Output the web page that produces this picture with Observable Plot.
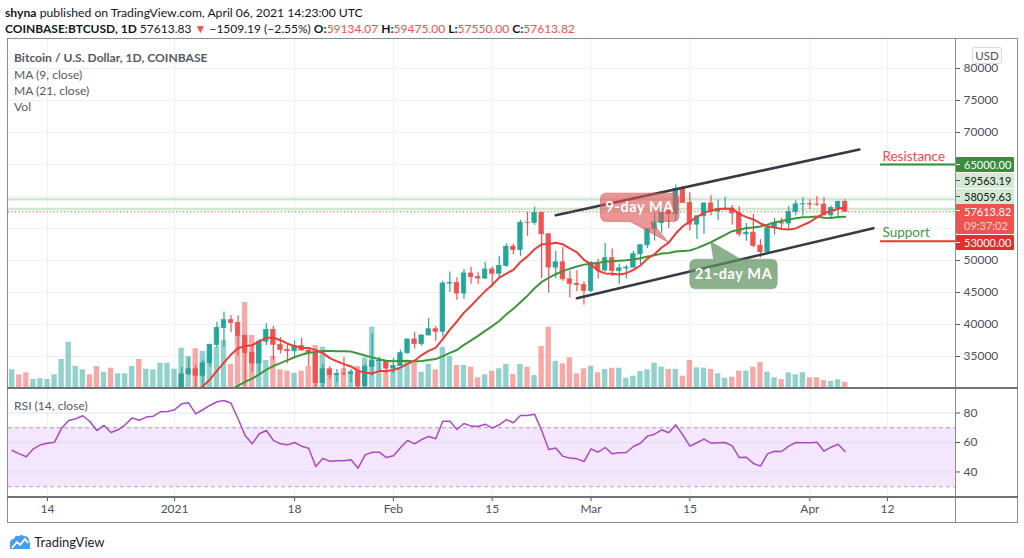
<!DOCTYPE html>
<html><head><meta charset="utf-8">
<script src="https://cdn.jsdelivr.net/npm/d3@7"></script>
<script src="https://cdn.jsdelivr.net/npm/@observablehq/plot@0.6"></script>
<style>
body{margin:0;background:#fff;}
#root{position:relative;width:1024px;height:558px;overflow:hidden;background:#fff;font-family:Lato,"Liberation Sans",sans-serif;color:#131722}
.abs{position:absolute;white-space:nowrap}
.red{color:#ef5350}
svg{overflow:visible}
</style></head><body><div id="root"></div>
<script>
// ---------------- DATA (daily, Coinbase BTC/USD, 2020-12-09 .. 2021-04-06) ----------------
const opens = [18320,18550,18250,18030,18800,19170,19270,19440,21380,22800,23130,23860,23480,22740,23820,23250,23730,24700,26490,26280,27040,27380,28880,
 28990,29400,32200,33000,31990,33950,36800,39460,40670,40240,38240,35550,33920,37320,39150,36830,36030,35820,36630,35920,35470,30850,33000,32080,32280,32260,32500,30400,33400,34270,34300,
 33100,33520,35510,37660,36930,38290,39260,38870,46400,46480,44840,47970,47400,47180,48590,47930,49160,52150,51640,55900,55880,57410,54090,48900,49710,47060,46340,46160,
 45250,49600,48440,50350,48370,48760,48880,50970,52380,54880,55850,57800,57230,61190,59000,55610,56900,58910,57650,58030,58100,57360,54090,54340,52300,51300,55050,55840,55780,57600,58760,
 58800,58740,58730,57060,58200,59134.07];
const highs = [18640,18560,18290,18950,19410,19350,19570,21560,23800,23290,24170,24300,24120,23840,24100,23780,24790,26870,28420,27500,27400,28990,29300,
 29600,33300,34780,33600,34500,36940,40370,41950,41380,41350,38260,36600,37600,40100,39700,37950,36850,37450,37850,36420,35600,33850,33450,32950,34880,32950,32560,33800,38500,34900,34330,
 34720,35990,37700,38700,38300,40950,39700,46750,48200,47300,48600,48950,48150,49700,49000,50650,52600,52540,56300,57500,58350,57530,54200,51400,52050,48400,48400,46650,
 49800,50200,52650,51800,49450,49200,51450,52400,54900,57400,58100,58050,61780,61600,60600,56900,58990,60100,59450,59900,58600,58400,55800,57200,53250,55150,56600,56550,58400,59350,59800,
 59500,60000,59800,58500,59300,59475.00];
const lows = [17650,17910,17580,18020,18720,19000,19050,19300,21230,22350,22760,23090,21820,22360,22630,22700,23440,24500,25850,26120,25880,27340,27850,
 28700,28950,32000,27680,29900,33300,36300,36500,38720,35110,30300,32500,32380,36700,34400,35400,33850,34800,35900,33400,30100,28800,31400,30900,31940,30830,29240,29900,31950,32850,32300,
 32300,33420,35370,36160,36600,38200,37400,37990,45000,43800,43950,46300,46250,47030,45900,47090,48950,50900,50650,53800,55500,47200,44900,47200,46750,44150,45100,43000,
 45000,47100,48150,47500,46300,47100,48900,49300,51850,53050,54250,55000,56100,59000,54600,53300,54100,57000,56250,57800,55500,53700,53000,52000,50400,51300,53950,54700,54900,57000,56950,
 57950,58450,56950,56500,56800,57550.00];
const closes = [18550,18250,18030,18800,19170,19270,19440,21380,22800,23130,23860,23480,22740,23820,23250,23730,24700,26490,26280,27040,27380,28880,28990,
 29400,32200,33000,31990,33950,36800,39460,40670,40240,38240,35550,33920,37320,39150,36830,36030,35820,36630,35920,35470,30850,33000,32080,32280,32260,32500,30400,33400,34270,34300,33100,
 33520,35510,37660,36930,38290,39260,38870,46400,46480,44840,47970,47400,47180,48590,47930,49160,52150,51640,55900,55880,57410,54090,48900,49710,47060,46340,46160,45250,
 49600,48440,50350,48370,48760,48880,50970,52380,54880,55850,57800,57230,61190,59000,55610,56900,58910,57650,58030,58100,57360,54090,54340,52300,51300,55050,55840,55780,57600,58760,58800,
 58740,58730,57060,58200,59130,57613.82];
// volume, thousand BTC
const volumes = [18.7,13.7,15.7,9,9.7,9,13.7,29,46.3,22,18.7,13.7,22,16.3,20.3,14.7,14.7,22,29,19.3,18.7,25.3,25.3,
 19.3,40.3,32,39.7,37,38,41.3,48,24,53,86,53,45,28,32,18.7,17.3,15.3,17.3,22,43,41.3,18.7,13,19.7,17.3,22,30.7,61.3,28,18,
 17.3,21.3,27,25.3,16.3,24,18.7,41.3,32,23,23,21.3,10.7,13.7,17.3,19.7,24,14,24,21.3,13,42,61.3,27,24.7,30.7,14.7,19.7,
 22.3,15.7,19,20.3,20.3,10.3,12.3,17,18.7,25.3,21.3,19,19,12.3,28,20.7,20.3,19,14.7,10.3,11.3,17.3,17.3,21.3,26,16.3,10.7,9,15.7,13.7,15.7,
 10.7,10.7,8,7,8.7,6.3];
const rsiValues = [54.6,52.3,50.3,55.7,58.4,59.5,60.2,69.7,74.9,76.1,78.1,74.2,68.1,71.7,66.8,68.6,72.0,76.7,75.1,77.2,77.8,80.8,81.0,
 82.2,86.2,86.9,79.4,82.2,85.1,87.6,88.5,86.6,76.1,64.7,59.1,65.9,68.1,61.4,59.1,58.4,60.0,57.5,56.1,43.7,49.2,47.3,47.6,47.6,48.3,42.6,51.6,53.4,53.4,49.8,
 51.0,56.4,61.4,59.1,62.0,64.1,62.5,74.4,74.4,68.8,72.9,71.1,70.8,72.4,69.7,72.0,75.5,73.4,78.3,78.3,79.2,68.1,55.3,56.2,50.7,49.4,48.9,47.1,
 55.7,53.4,56.6,52.3,53.0,53.2,57.3,59.5,64.3,65.6,68.6,66.6,72.0,65.2,57.5,59.8,62.3,59.5,59.8,60.0,57.7,49.8,50.0,45.8,44.0,52.3,54.1,53.9,57.5,60.0,59.8,
 59.8,60.2,54.1,56.8,58.8,53.9];
const priceTicks = [35000,40000,45000,50000,70000,75000,80000];
const priceGrid = [35000,40000,45000,50000,55000,60000,65000,70000,75000,80000];
const rsiTicks = [40,60,80];
const tickDates = ["2020-12-14","2021-01-01","2021-01-18","2021-02-01","2021-02-15","2021-03-01","2021-03-15","2021-04-01","2021-04-12"];
const tickLabels = ["14","2021","18","Feb","15","Mar","15","Apr","12"];
const channelUpper = [{date:"2021-02-24", price:57080},{date:"2021-04-08", price:67340}];
const channelLower = [{date:"2021-02-27", price:44110},{date:"2021-04-10", price:55050}];
const levels = [{name:"Resistance", price:65000, from:"2021-04-11"},{name:"Support", price:53000, from:"2021-04-11"}];
const hLevels = [59563.19, 58059.63];
const lastPrice = 57613.82;
const countdown = "09:37:02";
const callouts = [{text:"9-day MA", date:"2021-03-12", k:9},{text:"21-day MA", date:"2021-03-18", k:21}];

// ---------------- BUILD ----------------
const DAY = 864e5;
const dates = d3.utcDay.range(new Date(Date.UTC(2020,11,9)), new Date(Date.UTC(2021,3,7)));
const rows = dates.map((date,i)=>({date, open:opens[i], high:highs[i], low:lows[i], close:closes[i], vol:volumes[i], rsi:rsiValues[i]}));
const ref = Date.UTC(2020,11,14);
const xDomain = [new Date(ref - 5.525*DAY), new Date(ref + 128.63*DAY)];
const yDomain = [30000, 84687.5];
const volUnit = (yDomain[1]-yDomain[0]) / 350; // volume overlay: 350 thousand BTC spans the pane
const UP = "#26a69a", DN = "#ef5350", GRID = "#edf0f5";
const FONT = 'Lato, "Liberation Sans", sans-serif';
const isUp = d => d.close >= d.open;
const bx1 = d => new Date(+d.date - 0.31*DAY), bx2 = d => new Date(+d.date + 0.31*DAY);
const vx1 = d => new Date(+d.date - 0.38*DAY), vx2 = d => new Date(+d.date + 0.38*DAY);
const tickObjs = tickDates.map(s => new Date(s));
const labelOf = d => tickLabels[tickObjs.findIndex(t => +t === +d)];
const pd = s => new Date(s);

const root = document.getElementById("root");
function addDiv(html, css){ const e=document.createElement("div"); e.className="abs"; e.style.cssText=css; e.innerHTML=html; root.appendChild(e); return e; }

const pricePlot = Plot.plot({
  width:1024, height:388, marginTop:38, marginBottom:0, marginLeft:8, marginRight:69,
  style:{background:"transparent", fontFamily:FONT, fontSize:"12px", color:"#4c525e", overflow:"visible"},
  x:{type:"utc", domain:xDomain, axis:null},
  y:{domain:yDomain, axis:"right", ticks:priceTicks, tickFormat:"d", tickSize:4, tickPadding:4, label:null},
  marks:[
    Plot.ruleY(priceGrid, {stroke:GRID}),
    Plot.ruleX(tickObjs, {stroke:GRID}),
    Plot.ruleY(hLevels, {stroke:"#cfe8cf", strokeWidth:2.5}),
    Plot.rect(rows, {filter:isUp, x1:vx1, x2:vx2, y1:()=>yDomain[0], y2:d=>yDomain[0]+d.vol*volUnit, fill:"rgba(38,166,154,0.5)"}),
    Plot.rect(rows, {filter:d=>!isUp(d), x1:vx1, x2:vx2, y1:()=>yDomain[0], y2:d=>yDomain[0]+d.vol*volUnit, fill:"rgba(239,83,80,0.5)"}),
    Plot.ruleX(rows, {filter:isUp, x:"date", y1:"low", y2:"high", stroke:UP, strokeWidth:1.2, clip:true}),
    Plot.ruleX(rows, {filter:d=>!isUp(d), x:"date", y1:"low", y2:"high", stroke:DN, strokeWidth:1.2, clip:true}),
    Plot.rect(rows, {filter:isUp, x1:bx1, x2:bx2, y1:"open", y2:"close", fill:UP, stroke:UP, strokeWidth:0.8, clip:true}),
    Plot.rect(rows, {filter:d=>!isUp(d), x1:bx1, x2:bx2, y1:"open", y2:"close", fill:DN, stroke:DN, strokeWidth:0.8, clip:true}),
    Plot.lineY(rows, Plot.windowY({k:21, anchor:"end", reduce:"mean"}, {x:"date", y:"close", stroke:"#3d963d", strokeWidth:2, clip:true})),
    Plot.lineY(rows, Plot.windowY({k:9, anchor:"end", reduce:"mean"}, {x:"date", y:"close", stroke:"#ee3b36", strokeWidth:2, clip:true})),
    Plot.line(channelUpper, {x:d=>pd(d.date), y:"price", stroke:"#363a45", strokeWidth:2.6}),
    Plot.line(channelLower, {x:d=>pd(d.date), y:"price", stroke:"#363a45", strokeWidth:2.6}),
    Plot.ruleY([lastPrice], {stroke:DN, strokeDasharray:"1.2,2.3"}),
    Plot.ruleY(levels.slice(0,1), {y:"price", x1:d=>pd(d.from), x2:()=>xDomain[1], stroke:"#2e8b32", strokeWidth:2}),
    Plot.ruleY(levels.slice(1), {y:"price", x1:d=>pd(d.from), x2:()=>xDomain[1], stroke:"#e53935", strokeWidth:2}),
    Plot.text(levels.slice(0,1), {x:d=>pd(d.from), y:"price", text:"name", textAnchor:"start", dx:2, dy:-8, fill:"#f0484b", fontSize:13.5}),
    Plot.text(levels.slice(1), {x:d=>pd(d.from), y:"price", text:"name", textAnchor:"start", dx:2, dy:-9, fill:"#3e9a3e", fontSize:13.5})
  ]
});
pricePlot.style.position="absolute"; pricePlot.style.left="0px"; pricePlot.style.top="0px";
root.appendChild(pricePlot);

const rsiPlot = Plot.plot({
  width:1024, height:135, marginTop:0, marginBottom:26, marginLeft:8, marginRight:69,
  style:{background:"transparent", fontFamily:FONT, fontSize:"12px", color:"#4c525e", overflow:"visible"},
  x:{type:"utc", domain:xDomain, ticks:tickObjs, tickFormat:labelOf, tickSize:4, tickPadding:3, label:null},
  y:{domain:[22.7,96.6], axis:"right", ticks:rsiTicks, tickSize:4, tickPadding:4, label:null},
  marks:[
    Plot.ruleX(tickObjs, {stroke:GRID}),
    Plot.rect([{lo:30, hi:70}], {x1:()=>xDomain[0], x2:()=>xDomain[1], y1:"lo", y2:"hi", fill:"#f3e6fd"}),
    Plot.ruleY(rsiTicks, {stroke:"#d8dcef", strokeOpacity:0.8}),
    Plot.ruleY([70,30], {stroke:"#a9a6b3", strokeDasharray:"4,3"}),
    Plot.line(rows, {x:"date", y:"rsi", stroke:"#ab4ac2", strokeWidth:1.5})
  ]
});
rsiPlot.style.position="absolute"; rsiPlot.style.left="0px"; rsiPlot.style.top="388px";
root.appendChild(rsiPlot);

// ---------------- frame & separators ----------------
const FR = "#8a8d96";
addDiv("", `left:7px;top:38px;width:1011px;height:485px;border:1px solid ${FR};box-sizing:border-box;`);
addDiv("", `left:955px;top:38px;width:1px;height:485px;background:${FR};`);
addDiv("", `left:7px;top:387px;width:1011px;height:2px;background:#6f727c;`);
addDiv("", `left:7px;top:496px;width:1011px;height:2px;background:#6f727c;`);

// ---------------- callouts (anchored on the MA curves via the plot scales) ----------------
const xs = pricePlot.scale("x"), ys = pricePlot.scale("y");
function maAt(k, s){ const i = rows.findIndex(r => +r.date === +pd(s)); return d3.mean(closes.slice(i-k+1, i+1)); }
const ns = "http://www.w3.org/2000/svg";
const ov = document.createElementNS(ns,"svg");
ov.setAttribute("width",1024); ov.setAttribute("height",558);
ov.style.cssText="position:absolute;left:0;top:0;";
root.appendChild(ov);
function rr(L,T,R,B,r,ptr){ // rounded box with pointer
  let p = `M${L+r},${T}`;
  if(ptr.side==="top") p += ` H${ptr.a} L${ptr.tx},${ptr.ty} L${ptr.b},${T}`;
  p += ` H${R-r} Q${R},${T} ${R},${T+r} V${B-r} Q${R},${B} ${R-r},${B}`;
  if(ptr.side==="bottom") p += ` H${ptr.b} L${ptr.tx},${ptr.ty} L${ptr.a},${B}`;
  p += ` H${L+r} Q${L},${B} ${L},${B-r} V${T+r} Q${L},${T} ${L+r},${T} Z`;
  return p;
}
callouts.forEach(c=>{
  const tx = xs.apply(pd(c.date)), ty = ys.apply(maAt(c.k, c.date));
  let L,T,R,B,ptr,fill,stroke;
  if(c.k===9){ L=tx-67.6; R=tx+10.7; T=ty-49; B=ty-20.7; ptr={side:"bottom", a:tx-38, b:tx-17, tx, ty}; fill="rgba(222,86,86,0.62)"; stroke="rgba(210,70,70,0.5)"; }
  else { L=tx-20.7; R=tx+66.7; T=ty+17.6; B=ty+47.3; ptr={side:"top", a:tx+3, b:tx+30, tx, ty}; fill="rgba(96,146,96,0.72)"; stroke="rgba(96,146,96,0.4)"; }
  const path = document.createElementNS(ns,"path");
  path.setAttribute("d", rr(L,T,R,B,6,ptr)); path.setAttribute("fill", fill); path.setAttribute("stroke", stroke);
  ov.appendChild(path);
  const t = document.createElementNS(ns,"text");
  t.setAttribute("x",(L+R)/2); t.setAttribute("y",(T+B)/2+5); t.setAttribute("text-anchor","middle");
  t.setAttribute("fill","#fff"); t.setAttribute("font-family",FONT); t.setAttribute("font-size","14.5"); t.setAttribute("font-weight","bold");
  t.setAttribute("letter-spacing","0.6");
  t.textContent = c.text; ov.appendChild(t);
});

// ---------------- price-scale labels (stacked like TradingView) ----------------
const lab = (v, bg, fg, h, extra) => ({v, bg, fg, h, extra});
const priceLab = lab(lastPrice, "#ef5350", "#fff", 30, countdown);
const top0 = ys.apply(lastPrice) - 7;
const placed = [{...priceLab, top: top0}];
let prevTop = top0;
[lab(hLevels[1],"#d3ead3","#131722",15), lab(hLevels[0],"#d3ead3","#131722",15), lab(65000,"#388e3c","#fff",15)].forEach(l=>{
  let t = ys.apply(l.v) - l.h/2; if(t + l.h > prevTop - 0.5) t = prevTop - 0.5 - l.h; placed.push({...l, top:t}); prevTop = t;
});
let prevBot = top0 + priceLab.h;
[lab(53000,"#e0312f","#fff",15)].forEach(l=>{
  let t = ys.apply(l.v) - l.h/2; if(t < prevBot + 0.5) t = prevBot + 0.5; placed.push({...l, top:t}); prevBot = t + l.h;
});
placed.forEach(l=>{
  const txt = d3.format(".2f")(l.v) + (l.extra ? `<br><span style="opacity:.75">${l.extra}</span>` : "");
  addDiv(`<span style="position:absolute;left:0;top:${l.extra?6:7}px;width:4px;height:1px;background:${l.fg==="#fff"?"#fff":"#4c525e"}"></span><div style="padding-left:8px;line-height:14px;padding-top:1px">${txt}</div>`,
    `left:956px;top:${l.top}px;width:58px;height:${l.h}px;background:${l.bg};color:${l.fg};font-size:11px;font-family:${FONT};border-radius:1px;`);
});

// ---------------- texts ----------------
addDiv(`<b>shyna</b> published on TradingView.com, April 06, 2021 14:23:00 UTC`, `left:5px;top:5px;font-size:12.2px;`);
addDiv(`<b>COINBASE:BTCUSD, 1D</b> 57613.83 <span class="red">▼</span> −1509.19 (−2.55%) <b>O:</b><span class="red">59134.07</span> <b>H:</b><span class="red">59475.00</span> <b>L:</b><span class="red">57550.00</span> <b>C:</b><span class="red">57613.82</span>`, `left:5px;top:21px;font-size:12px;`);
addDiv(`<b>Bitcoin / U.S. Dollar, 1D, COINBASE</b>`, `left:14px;top:50px;font-size:12.1px;color:#555a63;`);
addDiv(`MA (9, close)`, `left:14px;top:67px;font-size:12.1px;color:#555a63;`);
addDiv(`MA (21, close)`, `left:14px;top:83px;font-size:12.1px;color:#555a63;`);
addDiv(`Vol`, `left:14px;top:99px;font-size:12.1px;color:#555a63;`);
addDiv(`RSI (14, close)`, `left:14px;top:398px;font-size:12.1px;color:#555a63;`);
addDiv(`USD`, `left:972px;top:47px;width:28px;height:15px;line-height:15px;text-align:center;font-size:11.5px;color:#4c525e;border:1px solid #d6dae4;border-radius:3px;background:#fff;`);
addDiv(`<svg width="22" height="16" viewBox="0 0 22 16" style="vertical-align:middle"><path d="M1,15 L1,9 Q1,5 5,5 Q6,1 10,2 Q12,0 15,2 Q20,2 20,7 Q22,9 21,12 L21,15 Z" fill="#4a9be8"/><path d="M3,14 L8,8 L11,11 L16,5 L19,9" stroke="#fff" stroke-width="1.8" fill="none"/></svg> <span style="vertical-align:middle">TradingView</span>`, `left:9px;top:532px;font-size:13px;color:#1e222d;`);
</script></body></html>
